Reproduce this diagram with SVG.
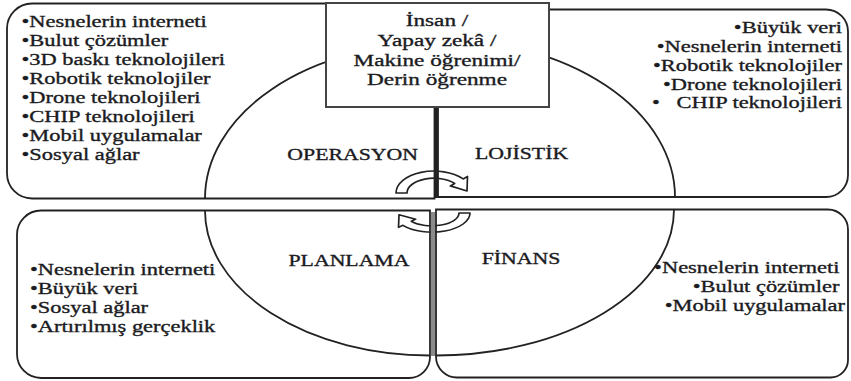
<svg xmlns="http://www.w3.org/2000/svg" width="851" height="381" viewBox="0 0 851 381">
  <style>
    .panel { fill: none; stroke: #222; stroke-width: 1.8; }
    .arc { fill: none; stroke: #222; stroke-width: 1.8; }
    .box { fill: #fff; stroke: #444; stroke-width: 2; }
    .cyc { fill: #fff; stroke: #222; stroke-width: 1.7; stroke-linejoin: round; }
    text { font-family: "Liberation Serif", "Times New Roman", serif; fill: #1b1b22; stroke: #1b1b22; stroke-width: 0.35; }
    .li { font-size: 17px; }
    .lbl { font-size: 16.5px; }
    .ti { font-size: 17.6px; text-anchor: middle; }
  </style>
  <defs>
    <!-- curved cycle arrow: band arching over the centre, head pointing down-right -->
    <path id="cycle" class="cyc" d="M 396,193 A 38,22 0 0 1 463.1,178.9 L 467.5,176.5 L 467,191 L 450.3,185.9 L 454.7,183.5 A 27,14.7 0 0 0 407,193 Z"/>
  </defs>

  <rect width="851" height="381" fill="#fff"/>

  <!-- cycle arrows between the four quadrants -->
  <g id="connectors">
    <use href="#cycle"/>
    <use href="#cycle" transform="translate(0,213) scale(1,0.87) translate(0,-213) rotate(180 433 203)"/>
  </g>

  <!-- Operasyon quadrant -->
  <g id="operasyon">
    <path class="panel" d="M 434.5,3.5 L 32,3.5 A 25,25 0 0 0 7,28.5 L 7,173.5 A 25,25 0 0 0 32,198.5 L 434.5,198.5 Z"/>
    <path class="arc" d="M 205,198.5 A 229.5,155 0 0 1 434.5,43.5"/>
    <text class="lbl" text-anchor="end" transform="translate(418,159.5) scale(1.32 1)">OPERASYON</text>
    <text class="li" transform="translate(21.5,26.5) scale(1.32 1)">
      <tspan x="0">•Nesnelerin interneti</tspan>
      <tspan x="0" dy="19.05">•Bulut çözümler</tspan>
      <tspan x="0" dy="19.05">•3D baskı teknolojileri</tspan>
      <tspan x="0" dy="19.05">•Robotik teknolojiler</tspan>
      <tspan x="0" dy="19.05">•Drone teknolojileri</tspan>
      <tspan x="0" dy="19.05">•CHIP teknolojileri</tspan>
      <tspan x="0" dy="19.05">•Mobil uygulamalar</tspan>
      <tspan x="0" dy="19.05">•Sosyal ağlar</tspan>
    </text>
  </g>

  <!-- Lojistik quadrant -->
  <g id="lojistik">
    <path class="panel" d="M 438,9.5 L 826,9.5 A 22,22 0 0 1 848,31.5 L 848,175 A 22,22 0 0 1 826,197 L 438,197 Z"/>
    <path class="arc" d="M 438,39 A 237,158 0 0 1 675,197"/>
    <rect x="434.5" y="107" width="3.5" height="91" fill="#222"/>
    <text class="lbl" transform="translate(475,158.5) scale(1.32 1)">LOJİSTİK</text>
    <text class="li" text-anchor="end" xml:space="preserve" transform="translate(842,33.3) scale(1.32 1)"><tspan x="0">•Büyük veri</tspan><tspan x="0" dy="18.75">•Nesnelerin interneti</tspan><tspan x="0" dy="18.75">•Robotik teknolojiler</tspan><tspan x="0" dy="18.75">•Drone teknolojileri</tspan><tspan x="0" dy="18.75">•   CHIP teknolojileri</tspan></text>
  </g>

  <!-- Planlama quadrant -->
  <g id="planlama">
    <path class="panel" d="M 430,210.5 L 41,210.5 A 24,24 0 0 0 17,234.5 L 17,354 A 24,24 0 0 0 41,378 L 409,378 A 21,21 0 0 0 430,357 Z"/>
    <path class="arc" d="M 205,210.5 A 225,145 0 0 0 430,355.5"/>
    <text class="lbl" transform="translate(288.5,265.5) scale(1.32 1)">PLANLAMA</text>
    <text class="li" transform="translate(30,275) scale(1.32 1)">
      <tspan x="0">•Nesnelerin interneti</tspan>
      <tspan x="0" dy="18.9">•Büyük veri</tspan>
      <tspan x="0" dy="18.9">•Sosyal ağlar</tspan>
      <tspan x="0" dy="18.9">•Artırılmış gerçeklik</tspan>
    </text>
  </g>

  <!-- Finans quadrant -->
  <g id="finans">
    <rect x="430.9" y="212" width="4.2" height="144" fill="#8a8a8a"/>
    <path class="panel" d="M 436,209.5 L 828,209.5 A 20,20 0 0 1 848,229.5 L 848,360 A 17.5,17.5 0 0 1 830.5,377.5 L 457,377.5 A 21,21 0 0 1 436,356.5 Z"/>
    <path class="arc" d="M 674,209.5 A 238,146 0 0 1 436,355.5"/>
    <text class="lbl" transform="translate(481.7,263.7) scale(1.32 1)">FİNANS</text>
    <text class="li" text-anchor="end" transform="translate(845,273.3) scale(1.32 1)">
      <tspan x="0">•Nesnelerin interneti</tspan>
      <tspan x="0" dy="18.7">•Bulut çözümler</tspan>
      <tspan x="0" dy="18.7">•Mobil uygulamalar</tspan>
    </text>
  </g>

  <!-- central driver box -->
  <g id="core">
    <rect class="box" x="326" y="3" width="223" height="104"/>
    <text class="ti" transform="translate(437,26.3) scale(1.32 1)">İnsan /</text>
    <text class="ti" transform="translate(437,46) scale(1.32 1)">Yapay zekâ /</text>
    <text class="ti" transform="translate(437,65.7) scale(1.32 1)">Makine öğrenimi/</text>
    <text class="ti" transform="translate(437,85.4) scale(1.32 1)">Derin öğrenme</text>
  </g>
</svg>
